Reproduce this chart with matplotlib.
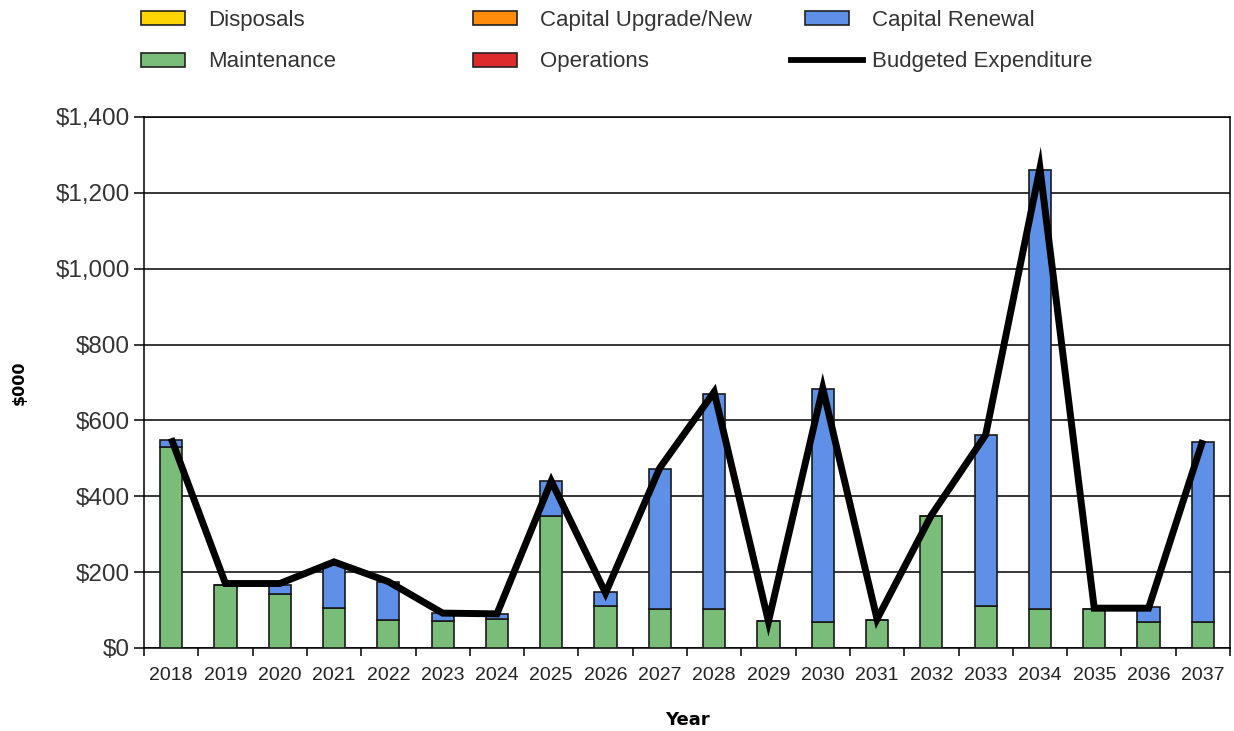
import matplotlib
matplotlib.use("Agg")
import matplotlib.pyplot as plt
from matplotlib.patches import Patch, Rectangle
from matplotlib.lines import Line2D
from matplotlib.legend_handler import HandlerPatch
from matplotlib.ticker import FuncFormatter, FixedLocator
import numpy as np


YEARS = [str(y) for y in range(2018, 2038)]
DISPOSALS = [0] * 20
CAPITAL_UPGRADE = [0] * 20
OPERATIONS = [0] * 20
MAINTENANCE = [531, 167, 142, 105, 73, 72, 77, 348, 112, 104, 104, 70,
               69, 75, 347, 110, 104, 104, 69, 69]
CAPITAL_RENEWAL = [17, 0, 25, 114, 102, 20, 12, 91, 35, 367, 566, 0,
                   614, 0, 0, 451, 1157, 0, 39, 474]
BUDGETED = [553, 170, 170, 227, 175, 92, 90, 440, 145, 475, 675, 70,
            685, 76, 350, 562, 1265, 105, 105, 548]

SERIES = [
    ("Maintenance", MAINTENANCE, "#79bd79"),
    ("Operations", OPERATIONS, "#dd2a2a"),
    ("Capital Renewal", CAPITAL_RENEWAL, "#5d90e6"),
    ("Capital Upgrade/New", CAPITAL_UPGRADE, "#ff8c0a"),
    ("Disposals", DISPOSALS, "#ffd400"),
]
COLORS = {name: color for name, _, color in SERIES}

plt.rcParams["font.family"] = ["Liberation Sans", "DejaVu Sans"]

fig = plt.figure(figsize=(12.34, 7.31), dpi=100)
ax = fig.add_axes([144 / 1234, 1 - 648 / 731, (1230 - 144) / 1234, (648 - 117) / 731])

x = np.arange(len(YEARS))
bottom = np.zeros(len(YEARS))
for name, values, color in SERIES:
    vals = np.array(values, dtype=float)
    if vals.sum() == 0:
        continue
    ax.bar(x, vals, width=0.41, bottom=bottom, color=color,
           edgecolor="#1a1a1a", linewidth=1.2, zorder=3)
    bottom += vals

ax.plot(x, BUDGETED, color="black", linewidth=5, zorder=4,
        solid_joinstyle="miter", solid_capstyle="butt")

ax.set_xlim(-0.5, len(YEARS) - 0.5)
ax.set_ylim(0, 1400)
ax.yaxis.set_major_locator(FixedLocator(range(0, 1401, 200)))
ax.yaxis.set_major_formatter(FuncFormatter(lambda v, p: f"${v:,.0f}"))
ax.grid(axis="y", color="black", linewidth=1.1, zorder=1)
ax.tick_params(axis="y", direction="out", length=7, width=1.1,
               labelsize=17.5, labelcolor="#333333", pad=3)

# year boundaries get the tick marks, year centres get the labels
ax.set_xticks(np.arange(len(YEARS) + 1) - 0.5)
ax.set_xticklabels([])
ax.set_xticks(x, minor=True)
ax.set_xticklabels(YEARS, minor=True, fontsize=14, color="#222222")
ax.tick_params(axis="x", which="major", direction="out", length=6, width=1.1)
ax.tick_params(axis="x", which="minor", length=0, pad=14)

for spine in ax.spines.values():
    spine.set_linewidth(1.1)
    spine.set_color("black")

ax.set_xlabel("Year", fontsize=13, fontweight="bold", family="DejaVu Sans",
              labelpad=19)
ax.set_ylabel("$000", fontsize=11.5, fontweight="bold", family="DejaVu Sans",
              labelpad=21)


def narrow_box(legend, orig_handle, xdescent, ydescent, width, height, fontsize):
    return Rectangle((-xdescent + width * 0.195, -ydescent), width * 0.61, height)


def patch(name):
    return Patch(facecolor=COLORS[name], edgecolor="#222222", linewidth=1.2)


legend_cols = [
    ([patch("Disposals"), patch("Maintenance")], ["Disposals", "Maintenance"], 127),
    ([patch("Capital Upgrade/New"), patch("Operations")],
     ["Capital Upgrade/New", "Operations"], 459),
    ([patch("Capital Renewal"), Line2D([], [], color="black", linewidth=4.2)],
     ["Capital Renewal", "Budgeted Expenditure"], 791),
]
for handles, labels, left in legend_cols:
    fig.legend(handles, labels, loc="upper left",
               bbox_to_anchor=(left / 1234, 1 - 10 / 731),
               frameon=False, fontsize=16, handlelength=3.25, handleheight=0.6,
               handletextpad=0.38, labelspacing=0.92, borderpad=0,
               borderaxespad=0, labelcolor="#333333",
               handler_map={Patch: HandlerPatch(patch_func=narrow_box)})

fig.savefig("out.png", dpi=100)
